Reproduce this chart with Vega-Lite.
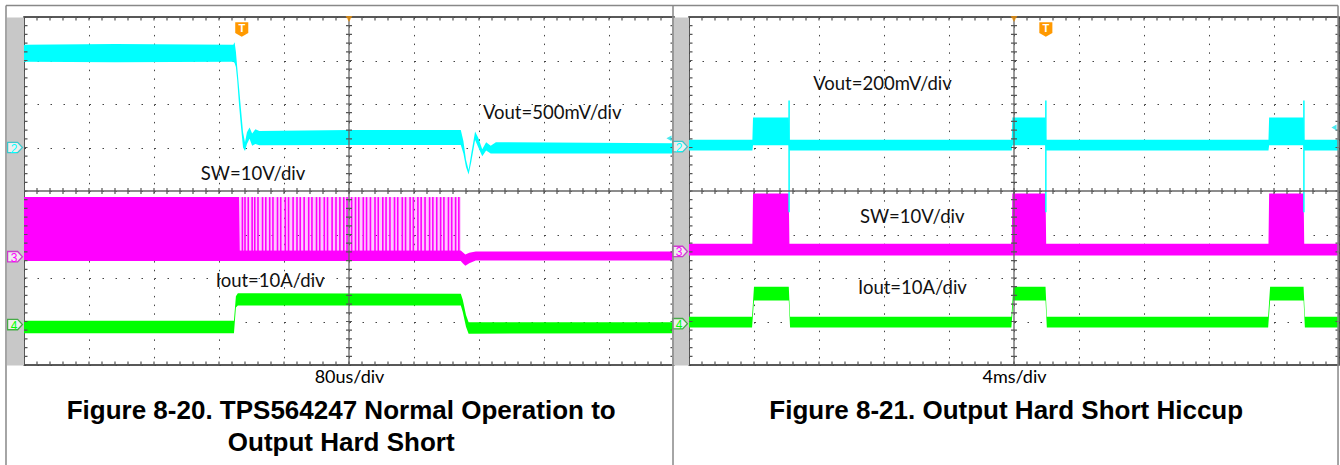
{
  "$schema": "https://vega.github.io/schema/vega-lite/v6.json",
  "background": "white",
  "padding": {"left": 4, "top": 4, "right": 0, "bottom": 0},
  "spacing": 15,
  "bounds": "flush",
  "config": {"view": {"stroke": "#222", "strokeWidth": 1.5}, "font": "Lato"},
  "datasets": {
    "bands": [
      {"panel": "L", "ch": "Vout", "t": -5, "hi": 3.36, "lo": 2.97},
      {"panel": "L", "ch": "Vout", "t": -3.6, "hi": 3.38, "lo": 2.96},
      {"panel": "L", "ch": "Vout", "t": -1.78, "hi": 3.36, "lo": 2.97},
      {"panel": "L", "ch": "Vout", "t": -1.76, "hi": 3.42, "lo": 2.94},
      {"panel": "L", "ch": "Vout", "t": -1.74, "hi": 3.2, "lo": 2.85},
      {"panel": "L", "ch": "Vout", "t": -1.72, "hi": 2.85, "lo": 2.55},
      {"panel": "L", "ch": "Vout", "t": -1.69, "hi": 2.35, "lo": 1.95},
      {"panel": "L", "ch": "Vout", "t": -1.66, "hi": 1.85, "lo": 1.45},
      {"panel": "L", "ch": "Vout", "t": -1.63, "hi": 1.35, "lo": 1.0},
      {"panel": "L", "ch": "Vout", "t": -1.6, "hi": 1.12, "lo": 0.92},
      {"panel": "L", "ch": "Vout", "t": -1.57, "hi": 1.35, "lo": 1.08},
      {"panel": "L", "ch": "Vout", "t": -1.53, "hi": 1.46, "lo": 1.2},
      {"panel": "L", "ch": "Vout", "t": -1.49, "hi": 1.32, "lo": 1.04},
      {"panel": "L", "ch": "Vout", "t": -1.44, "hi": 1.42, "lo": 1.08},
      {"panel": "L", "ch": "Vout", "t": -1.38, "hi": 1.38, "lo": 1.05},
      {"panel": "L", "ch": "Vout", "t": 0.0, "hi": 1.4, "lo": 1.06},
      {"panel": "L", "ch": "Vout", "t": 1.72, "hi": 1.4, "lo": 1.06},
      {"panel": "L", "ch": "Vout", "t": 1.76, "hi": 1.15, "lo": 0.86},
      {"panel": "L", "ch": "Vout", "t": 1.8, "hi": 0.72, "lo": 0.55},
      {"panel": "L", "ch": "Vout", "t": 1.84, "hi": 0.48, "lo": 0.38},
      {"panel": "L", "ch": "Vout", "t": 1.88, "hi": 0.85, "lo": 0.66},
      {"panel": "L", "ch": "Vout", "t": 1.94, "hi": 1.37, "lo": 1.17},
      {"panel": "L", "ch": "Vout", "t": 1.99, "hi": 1.22, "lo": 1.0},
      {"panel": "L", "ch": "Vout", "t": 2.05, "hi": 0.96, "lo": 0.8},
      {"panel": "L", "ch": "Vout", "t": 2.11, "hi": 1.12, "lo": 0.93},
      {"panel": "L", "ch": "Vout", "t": 2.18, "hi": 1.04, "lo": 0.86},
      {"panel": "L", "ch": "Vout", "t": 2.26, "hi": 1.12, "lo": 0.86},
      {"panel": "L", "ch": "Vout", "t": 5, "hi": 1.1, "lo": 0.86},
      {"panel": "L", "ch": "SW", "t": -5, "hi": -0.14, "lo": -1.61},
      {"panel": "L", "ch": "SW", "t": -1.69, "hi": -0.14, "lo": -1.61},
      {"panel": "L", "ch": "SW", "t": -1.68, "hi": -1.37, "lo": -1.61},
      {"panel": "L", "ch": "SW", "t": 1.72, "hi": -1.37, "lo": -1.61},
      {"panel": "L", "ch": "SW", "t": 1.75, "hi": -1.41, "lo": -1.66},
      {"panel": "L", "ch": "SW", "t": 1.79, "hi": -1.46, "lo": -1.72},
      {"panel": "L", "ch": "SW", "t": 1.85, "hi": -1.42, "lo": -1.66},
      {"panel": "L", "ch": "SW", "t": 1.95, "hi": -1.39, "lo": -1.6},
      {"panel": "L", "ch": "SW", "t": 5, "hi": -1.39, "lo": -1.6},
      {"panel": "L", "ch": "Iout", "t": -5, "hi": -2.98, "lo": -3.27},
      {"panel": "L", "ch": "Iout", "t": -1.77, "hi": -2.98, "lo": -3.27},
      {"panel": "L", "ch": "Iout", "t": -1.74, "hi": -2.42, "lo": -2.68},
      {"panel": "L", "ch": "Iout", "t": -1.71, "hi": -2.35, "lo": -2.63},
      {"panel": "L", "ch": "Iout", "t": 1.72, "hi": -2.36, "lo": -2.63},
      {"panel": "L", "ch": "Iout", "t": 1.75, "hi": -2.5, "lo": -2.78},
      {"panel": "L", "ch": "Iout", "t": 1.8, "hi": -2.85, "lo": -3.12},
      {"panel": "L", "ch": "Iout", "t": 1.84, "hi": -3.02, "lo": -3.28},
      {"panel": "L", "ch": "Iout", "t": 5, "hi": -3.02, "lo": -3.27},
      {"panel": "R", "ch": "Vout", "t": -5, "hi": 1.18, "lo": 0.93},
      {"panel": "R", "ch": "Vout", "t": -4.025, "hi": 1.18, "lo": 0.93},
      {"panel": "R", "ch": "Vout", "t": -4.015, "hi": 1.69, "lo": 1.05},
      {"panel": "R", "ch": "Vout", "t": -3.465, "hi": 1.69, "lo": 1.05},
      {"panel": "R", "ch": "Vout", "t": -3.455, "hi": 1.18, "lo": 0.93},
      {"panel": "R", "ch": "Vout", "t": -0.035, "hi": 1.18, "lo": 0.93},
      {"panel": "R", "ch": "Vout", "t": -0.025, "hi": 1.69, "lo": 1.05},
      {"panel": "R", "ch": "Vout", "t": 0.485, "hi": 1.69, "lo": 1.05},
      {"panel": "R", "ch": "Vout", "t": 0.495, "hi": 1.18, "lo": 0.93},
      {"panel": "R", "ch": "Vout", "t": 3.915, "hi": 1.18, "lo": 0.93},
      {"panel": "R", "ch": "Vout", "t": 3.925, "hi": 1.69, "lo": 1.05},
      {"panel": "R", "ch": "Vout", "t": 4.455, "hi": 1.69, "lo": 1.05},
      {"panel": "R", "ch": "Vout", "t": 4.465, "hi": 1.18, "lo": 0.93},
      {"panel": "R", "ch": "Vout", "t": 5, "hi": 1.18, "lo": 0.93},
      {"panel": "R", "ch": "SW", "t": -5, "hi": -1.21, "lo": -1.48},
      {"panel": "R", "ch": "SW", "t": -4.025, "hi": -1.21, "lo": -1.48},
      {"panel": "R", "ch": "SW", "t": -4.015, "hi": -0.06, "lo": -1.48},
      {"panel": "R", "ch": "SW", "t": -3.465, "hi": -0.06, "lo": -1.48},
      {"panel": "R", "ch": "SW", "t": -3.455, "hi": -1.21, "lo": -1.48},
      {"panel": "R", "ch": "SW", "t": -0.035, "hi": -1.21, "lo": -1.48},
      {"panel": "R", "ch": "SW", "t": -0.025, "hi": -0.06, "lo": -1.48},
      {"panel": "R", "ch": "SW", "t": 0.485, "hi": -0.06, "lo": -1.48},
      {"panel": "R", "ch": "SW", "t": 0.495, "hi": -1.21, "lo": -1.48},
      {"panel": "R", "ch": "SW", "t": 3.915, "hi": -1.21, "lo": -1.48},
      {"panel": "R", "ch": "SW", "t": 3.925, "hi": -0.06, "lo": -1.48},
      {"panel": "R", "ch": "SW", "t": 4.455, "hi": -0.06, "lo": -1.48},
      {"panel": "R", "ch": "SW", "t": 4.465, "hi": -1.21, "lo": -1.48},
      {"panel": "R", "ch": "SW", "t": 5, "hi": -1.21, "lo": -1.48},
      {"panel": "R", "ch": "Iout", "t": -5, "hi": -2.89, "lo": -3.14},
      {"panel": "R", "ch": "Iout", "t": -4.03, "hi": -2.89, "lo": -3.14},
      {"panel": "R", "ch": "Iout", "t": -4.0, "hi": -2.2, "lo": -2.52},
      {"panel": "R", "ch": "Iout", "t": -3.465, "hi": -2.2, "lo": -2.52},
      {"panel": "R", "ch": "Iout", "t": -3.445, "hi": -2.89, "lo": -3.14},
      {"panel": "R", "ch": "Iout", "t": -0.04, "hi": -2.89, "lo": -3.14},
      {"panel": "R", "ch": "Iout", "t": -0.01, "hi": -2.2, "lo": -2.52},
      {"panel": "R", "ch": "Iout", "t": 0.485, "hi": -2.2, "lo": -2.52},
      {"panel": "R", "ch": "Iout", "t": 0.505, "hi": -2.89, "lo": -3.14},
      {"panel": "R", "ch": "Iout", "t": 3.91, "hi": -2.89, "lo": -3.14},
      {"panel": "R", "ch": "Iout", "t": 3.94, "hi": -2.2, "lo": -2.52},
      {"panel": "R", "ch": "Iout", "t": 4.455, "hi": -2.2, "lo": -2.52},
      {"panel": "R", "ch": "Iout", "t": 4.475, "hi": -2.89, "lo": -3.14},
      {"panel": "R", "ch": "Iout", "t": 5, "hi": -2.89, "lo": -3.14}
    ],
    "pulses": [
      {"t": -1.64}, {"t": -1.6}, {"t": -1.55}, {"t": -1.49}, {"t": -1.45}, {"t": -1.4}, {"t": -1.33}, {"t": -1.28},
      {"t": -1.22}, {"t": -1.17}, {"t": -1.1}, {"t": -1.05}, {"t": -0.98}, {"t": -0.93}, {"t": -0.86}, {"t": -0.8},
      {"t": -0.75}, {"t": -0.69}, {"t": -0.62}, {"t": -0.57}, {"t": -0.5}, {"t": -0.45}, {"t": -0.38}, {"t": -0.33},
      {"t": -0.26}, {"t": -0.2}, {"t": -0.14}, {"t": -0.08}, {"t": -0.03}, {"t": 0.04}, {"t": 0.1}, {"t": 0.15},
      {"t": 0.22}, {"t": 0.27}, {"t": 0.33}, {"t": 0.4}, {"t": 0.45}, {"t": 0.52}, {"t": 0.57}, {"t": 0.63},
      {"t": 0.7}, {"t": 0.75}, {"t": 0.82}, {"t": 0.87}, {"t": 0.94}, {"t": 0.99}, {"t": 1.06}, {"t": 1.11},
      {"t": 1.17}, {"t": 1.24}, {"t": 1.29}, {"t": 1.35}, {"t": 1.41}, {"t": 1.46}, {"t": 1.53}, {"t": 1.58},
      {"t": 1.64}, {"t": 1.69}
    ],
    "spikes": [
      {"t": -3.46, "hi": 2.08, "lo": -0.49},
      {"t": 0.49, "hi": 2.08, "lo": -0.49},
      {"t": 4.46, "hi": 2.08, "lo": -0.49}
    ],
    "markers": [
      {"panel": "L", "ch": "Vout", "label": "2", "y": 1.0},
      {"panel": "L", "ch": "SW", "label": "3", "y": -1.51},
      {"panel": "L", "ch": "Iout", "label": "4", "y": -3.07},
      {"panel": "R", "ch": "Vout", "label": "2", "y": 1.02},
      {"panel": "R", "ch": "SW", "label": "3", "y": -1.39},
      {"panel": "R", "ch": "Iout", "label": "4", "y": -3.05}
    ],
    "labels": [
      {"panel": "L", "text": "Vout=500mV/div", "t": 2.06, "y": 1.8},
      {"panel": "L", "text": "SW=10V/div", "t": -2.28, "y": 0.38},
      {"panel": "L", "text": "Iout=10A/div", "t": -2.05, "y": -2.06},
      {"panel": "R", "text": "Vout=200mV/div", "t": -3.09, "y": 2.47},
      {"panel": "R", "text": "SW=10V/div", "t": -2.37, "y": -0.59},
      {"panel": "R", "text": "Iout=10A/div", "t": -2.4, "y": -2.22}
    ],
    "arrows": [
      {"panel": "L", "y": 1.21},
      {"panel": "R", "y": 1.46}
    ],
    "triggers": [
      {"panel": "L", "t": -1.65, "y": 3.71},
      {"panel": "R", "t": 0.49, "y": 3.71}
    ]
  },
  "hconcat": [
    {
      "width": 650,
      "height": 348,
      "layer": [
        {
          "data": {"name": "bands"},
          "transform": [{"filter": "datum.panel == 'L'"}],
          "mark": {"type": "area", "interpolate": "linear", "clip": true},
          "encoding": {
            "x": {"field": "t", "type": "quantitative", "scale": {"domain": [-5, 5], "nice": false, "zero": false},
              "axis": {"values": [-5, -4, -3, -2, -1, 0, 1, 2, 3, 4, 5], "grid": true, "gridDash": [1.5, 7.2], "gridColor": "#444", "gridWidth": 1, "labels": false, "ticks": false, "domain": false, "title": "80us/div", "titleFont": "Lato", "titleFontSize": 18, "titleFontWeight": "normal", "titleColor": "#000", "titlePadding": 3}},
            "y": {"field": "hi", "type": "quantitative", "scale": {"domain": [-4, 4], "nice": false, "zero": false},
              "axis": {"values": [-4, -3, -2, -1, 0, 1, 2, 3, 4], "grid": true, "gridDash": [1.5, 11.5], "gridColor": "#444", "gridWidth": 1, "labels": false, "ticks": false, "domain": true, "domainColor": "#c8c8c8", "domainWidth": 17, "offset": 9, "title": null}},
            "y2": {"field": "lo"},
            "color": {"field": "ch", "type": "nominal", "scale": {"domain": ["Vout", "SW", "Iout"], "range": ["#00ffff", "#ff00ff", "#00ff00"]}, "legend": null}
          }
        },
        {
          "data": {"values": [{"t": -1.68, "t2": 1.72, "hi": -0.14, "lo": -1.37}]},
          "mark": {"type": "rect", "color": "#ff00ff", "opacity": 0.22},
          "encoding": {
            "x": {"field": "t", "type": "quantitative"},
            "x2": {"field": "t2"},
            "y": {"field": "hi", "type": "quantitative"},
            "y2": {"field": "lo"}
          }
        },
        {
          "data": {"name": "pulses"},
          "mark": {"type": "rule", "color": "#ff00ff", "strokeWidth": 1.6},
          "encoding": {
            "x": {"field": "t", "type": "quantitative"},
            "y": {"datum": -0.14},
            "y2": {"datum": -1.45}
          }
        },
        {
          "data": {"values": [{}]},
          "mark": {"type": "rule", "color": "#666", "strokeWidth": 1.3},
          "encoding": {"x": {"datum": 0}}
        },
        {
          "data": {"values": [{}]},
          "mark": {"type": "rule", "color": "#555", "strokeWidth": 6, "strokeDash": [1.2, 7.5], "strokeDashOffset": 0.6},
          "encoding": {"x": {"datum": 0}}
        },
        {
          "data": {"values": [{}]},
          "mark": {"type": "rule", "color": "#666", "strokeWidth": 1.3},
          "encoding": {"y": {"datum": 0}}
        },
        {
          "data": {"values": [{}]},
          "mark": {"type": "rule", "color": "#555", "strokeWidth": 6, "strokeDash": [1.2, 11.8], "strokeDashOffset": 0.6},
          "encoding": {"y": {"datum": 0}}
        },
        {
          "data": {"values": [{"p": -5}, {"p": 5}]},
          "mark": {"type": "rule", "color": "#555", "strokeWidth": 7, "strokeDash": [1.2, 7.5], "strokeDashOffset": 0.6, "clip": true},
          "encoding": {"x": {"field": "p", "type": "quantitative"}}
        },
        {
          "data": {"values": [{"p": -4}, {"p": 4}]},
          "mark": {"type": "rule", "color": "#555", "strokeWidth": 7, "strokeDash": [1.2, 11.8], "strokeDashOffset": 0.6, "clip": true},
          "encoding": {"y": {"field": "p", "type": "quantitative"}}
        },
        {
          "data": {"name": "markers"},
          "transform": [{"filter": "datum.panel == 'L'"}],
          "mark": {"type": "point", "shape": "M-1,-0.7L0.35,-0.7L1,0L0.35,0.7L-1,0.7Z", "size": 220, "filled": true, "fill": "white", "strokeWidth": 1.3, "xOffset": -9, "clip": false},
          "encoding": {
            "x": {"datum": -5},
            "y": {"field": "y", "type": "quantitative"},
            "stroke": {"field": "ch", "type": "nominal", "scale": {"domain": ["Vout", "SW", "Iout"], "range": ["#00c8d0", "#d000d0", "#10a010"]}, "legend": null}
          }
        },
        {
          "data": {"name": "markers"},
          "transform": [{"filter": "datum.panel == 'L'"}],
          "mark": {"type": "text", "font": "Liberation Sans", "fontSize": 12, "xOffset": -10, "yOffset": 1, "clip": false},
          "encoding": {
            "x": {"datum": -5},
            "y": {"field": "y", "type": "quantitative"},
            "text": {"field": "label"},
            "color": {"field": "ch", "type": "nominal", "legend": null}
          }
        },
        {
          "data": {"name": "arrows"},
          "transform": [{"filter": "datum.panel == 'L'"}],
          "mark": {"type": "point", "shape": "triangle-left", "size": 35, "filled": true, "color": "#00e0e8", "xOffset": -5},
          "encoding": {"x": {"datum": 5}, "y": {"field": "y", "type": "quantitative"}}
        },
        {
          "data": {"name": "labels"},
          "transform": [{"filter": "datum.panel == 'L'"}],
          "mark": {"type": "text", "align": "left", "baseline": "middle", "font": "Lato", "fontSize": 18.5, "color": "#111"},
          "encoding": {
            "x": {"field": "t", "type": "quantitative"},
            "y": {"field": "y", "type": "quantitative"},
            "text": {"field": "text"}
          }
        },
        {
          "data": {"values": [{}]},
          "mark": {"type": "point", "shape": "triangle-down", "size": 45, "filled": true, "color": "#ff9900", "yOffset": 2},
          "encoding": {"x": {"datum": 0}, "y": {"datum": 4}}
        },
        {
          "data": {"name": "triggers"},
          "transform": [{"filter": "datum.panel == 'L'"}],
          "mark": {"type": "point", "shape": "M-0.9,-1L0.9,-1L0.9,0.45L0,1L-0.9,0.45Z", "size": 210, "filled": true, "color": "#ff9900", "opacity": 1},
          "encoding": {"x": {"field": "t", "type": "quantitative"}, "y": {"field": "y", "type": "quantitative"}}
        },
        {
          "data": {"name": "triggers"},
          "transform": [{"filter": "datum.panel == 'L'"}],
          "mark": {"type": "text", "text": "T", "font": "Liberation Sans", "fontWeight": "bold", "fontSize": 11, "color": "white", "baseline": "middle", "yOffset": -1},
          "encoding": {"x": {"field": "t", "type": "quantitative"}, "y": {"field": "y", "type": "quantitative"}}
        },
        {
          "data": {"values": [{}]},
          "mark": {"type": "rule", "color": "#888", "strokeWidth": 1.5, "clip": false},
          "encoding": {"x": {"datum": -5.277}, "y": {"datum": 4.264}, "y2": {"datum": -6.4}}
        },
        {
          "data": {"values": [{}]},
          "mark": {"type": "rule", "color": "#888", "strokeWidth": 1.5, "clip": false},
          "encoding": {"x": {"datum": -5.277}, "x2": {"datum": 4.985}, "y": {"datum": 4.264}}
        },
        {
          "data": {"values": [{}]},
          "mark": {"type": "text", "text": "Figure 8-20. TPS564247 Normal Operation to", "font": "Liberation Sans", "fontSize": 26, "fontWeight": "bold", "color": "#000", "align": "center", "baseline": "middle", "clip": false},
          "encoding": {"x": {"datum": -0.12}, "y": {"datum": -5.046}}
        },
        {
          "data": {"values": [{}]},
          "mark": {"type": "text", "text": "Output Hard Short", "font": "Liberation Sans", "fontSize": 26, "fontWeight": "bold", "color": "#000", "align": "center", "baseline": "middle", "clip": false},
          "encoding": {"x": {"datum": -0.12}, "y": {"datum": -5.782}}
        }
      ]
    },
    {
      "width": 650,
      "height": 348,
      "layer": [
        {
          "data": {"name": "bands"},
          "transform": [{"filter": "datum.panel == 'R'"}],
          "mark": {"type": "area", "interpolate": "linear", "clip": true},
          "encoding": {
            "x": {"field": "t", "type": "quantitative", "scale": {"domain": [-5, 5], "nice": false, "zero": false},
              "axis": {"values": [-5, -4, -3, -2, -1, 0, 1, 2, 3, 4, 5], "grid": true, "gridDash": [1.5, 7.2], "gridColor": "#444", "gridWidth": 1, "labels": false, "ticks": false, "domain": false, "title": "4ms/div", "titleFont": "Lato", "titleFontSize": 18, "titleFontWeight": "normal", "titleColor": "#000", "titlePadding": 3}},
            "y": {"field": "hi", "type": "quantitative", "scale": {"domain": [-4, 4], "nice": false, "zero": false},
              "axis": {"values": [-4, -3, -2, -1, 0, 1, 2, 3, 4], "grid": true, "gridDash": [1.5, 11.5], "gridColor": "#444", "gridWidth": 1, "labels": false, "ticks": false, "domain": true, "domainColor": "#c8c8c8", "domainWidth": 17, "offset": 9, "title": null}},
            "y2": {"field": "lo"},
            "color": {"field": "ch", "type": "nominal", "scale": {"domain": ["Vout", "SW", "Iout"], "range": ["#00ffff", "#ff00ff", "#00ff00"]}, "legend": null}
          }
        },
        {
          "data": {"name": "spikes"},
          "mark": {"type": "rule", "color": "#00ffff", "strokeWidth": 1.5},
          "encoding": {
            "x": {"field": "t", "type": "quantitative"},
            "y": {"field": "hi", "type": "quantitative"},
            "y2": {"field": "lo"}
          }
        },
        {
          "data": {"values": [{}]},
          "mark": {"type": "rule", "color": "#666", "strokeWidth": 1.3},
          "encoding": {"x": {"datum": 0}}
        },
        {
          "data": {"values": [{}]},
          "mark": {"type": "rule", "color": "#555", "strokeWidth": 6, "strokeDash": [1.2, 7.5], "strokeDashOffset": 0.6},
          "encoding": {"x": {"datum": 0}}
        },
        {
          "data": {"values": [{}]},
          "mark": {"type": "rule", "color": "#666", "strokeWidth": 1.3},
          "encoding": {"y": {"datum": 0}}
        },
        {
          "data": {"values": [{}]},
          "mark": {"type": "rule", "color": "#555", "strokeWidth": 6, "strokeDash": [1.2, 11.8], "strokeDashOffset": 0.6},
          "encoding": {"y": {"datum": 0}}
        },
        {
          "data": {"values": [{"p": -5}, {"p": 5}]},
          "mark": {"type": "rule", "color": "#555", "strokeWidth": 7, "strokeDash": [1.2, 7.5], "strokeDashOffset": 0.6, "clip": true},
          "encoding": {"x": {"field": "p", "type": "quantitative"}}
        },
        {
          "data": {"values": [{"p": -4}, {"p": 4}]},
          "mark": {"type": "rule", "color": "#555", "strokeWidth": 7, "strokeDash": [1.2, 11.8], "strokeDashOffset": 0.6, "clip": true},
          "encoding": {"y": {"field": "p", "type": "quantitative"}}
        },
        {
          "data": {"name": "markers"},
          "transform": [{"filter": "datum.panel == 'R'"}],
          "mark": {"type": "point", "shape": "M-1,-0.7L0.35,-0.7L1,0L0.35,0.7L-1,0.7Z", "size": 220, "filled": true, "fill": "white", "strokeWidth": 1.3, "xOffset": -9, "clip": false},
          "encoding": {
            "x": {"datum": -5},
            "y": {"field": "y", "type": "quantitative"},
            "stroke": {"field": "ch", "type": "nominal", "scale": {"domain": ["Vout", "SW", "Iout"], "range": ["#00c8d0", "#d000d0", "#10a010"]}, "legend": null}
          }
        },
        {
          "data": {"name": "markers"},
          "transform": [{"filter": "datum.panel == 'R'"}],
          "mark": {"type": "text", "font": "Liberation Sans", "fontSize": 12, "xOffset": -10, "yOffset": 1, "clip": false},
          "encoding": {
            "x": {"datum": -5},
            "y": {"field": "y", "type": "quantitative"},
            "text": {"field": "label"},
            "color": {"field": "ch", "type": "nominal", "legend": null}
          }
        },
        {
          "data": {"name": "arrows"},
          "transform": [{"filter": "datum.panel == 'R'"}],
          "mark": {"type": "point", "shape": "triangle-left", "size": 35, "filled": true, "color": "#00e0e8", "xOffset": -5},
          "encoding": {"x": {"datum": 5}, "y": {"field": "y", "type": "quantitative"}}
        },
        {
          "data": {"name": "labels"},
          "transform": [{"filter": "datum.panel == 'R'"}],
          "mark": {"type": "text", "align": "left", "baseline": "middle", "font": "Lato", "fontSize": 18.5, "color": "#111"},
          "encoding": {
            "x": {"field": "t", "type": "quantitative"},
            "y": {"field": "y", "type": "quantitative"},
            "text": {"field": "text"}
          }
        },
        {
          "data": {"values": [{}]},
          "mark": {"type": "point", "shape": "triangle-down", "size": 45, "filled": true, "color": "#ff9900", "yOffset": 2},
          "encoding": {"x": {"datum": 0}, "y": {"datum": 4}}
        },
        {
          "data": {"name": "triggers"},
          "transform": [{"filter": "datum.panel == 'R'"}],
          "mark": {"type": "point", "shape": "M-0.9,-1L0.9,-1L0.9,0.45L0,1L-0.9,0.45Z", "size": 210, "filled": true, "color": "#ff9900", "opacity": 1},
          "encoding": {"x": {"field": "t", "type": "quantitative"}, "y": {"field": "y", "type": "quantitative"}}
        },
        {
          "data": {"name": "triggers"},
          "transform": [{"filter": "datum.panel == 'R'"}],
          "mark": {"type": "text", "text": "T", "font": "Liberation Sans", "fontWeight": "bold", "fontSize": 11, "color": "white", "baseline": "middle", "yOffset": -1},
          "encoding": {"x": {"field": "t", "type": "quantitative"}, "y": {"field": "y", "type": "quantitative"}}
        },
        {
          "data": {"values": [{"p": -5.246}, {"p": 4.985}]},
          "mark": {"type": "rule", "color": "#888", "strokeWidth": 1.5, "clip": false},
          "encoding": {"x": {"field": "p", "type": "quantitative"}, "y": {"datum": 4.264}, "y2": {"datum": -6.4}}
        },
        {
          "data": {"values": [{}]},
          "mark": {"type": "rule", "color": "#888", "strokeWidth": 1.5, "clip": false},
          "encoding": {"x": {"datum": -5.246}, "x2": {"datum": 4.985}, "y": {"datum": 4.264}}
        },
        {
          "data": {"values": [{}]},
          "mark": {"type": "text", "text": "Figure 8-21. Output Hard Short Hiccup", "font": "Liberation Sans", "fontSize": 26, "fontWeight": "bold", "color": "#000", "align": "center", "baseline": "middle", "clip": false},
          "encoding": {"x": {"datum": -0.12}, "y": {"datum": -5.046}}
        }
      ]
    }
  ]
}
